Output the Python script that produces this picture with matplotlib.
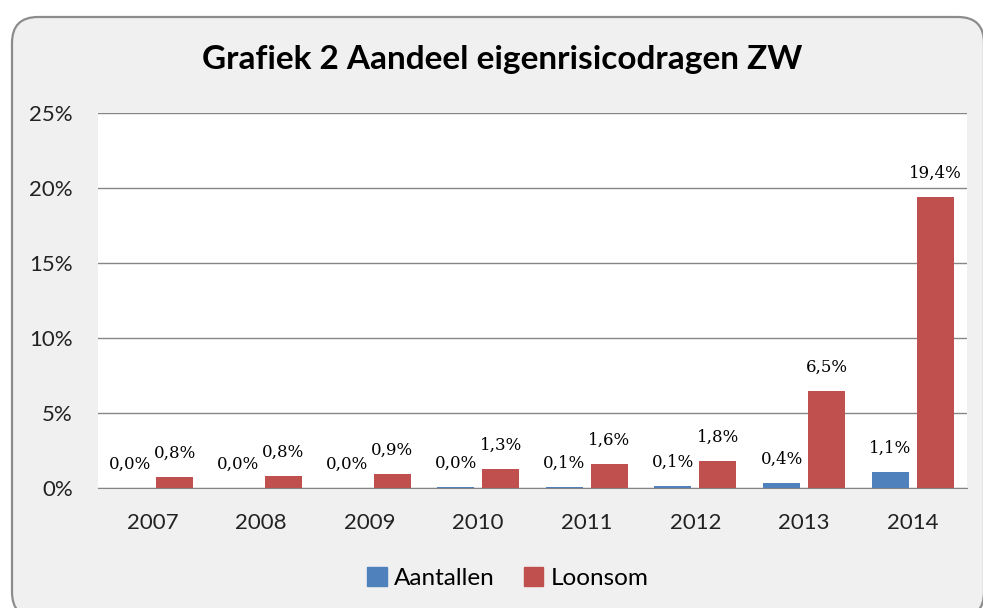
import numpy as np
import matplotlib
matplotlib.use('Agg')
import matplotlib.pyplot as plt
from matplotlib.patches import FancyBboxPatch, Patch

jaren = ['2007', '2008', '2009', '2010', '2011', '2012', '2013', '2014']
aantallen = [0.03, 0.03, 0.03, 0.04, 0.08, 0.12, 0.36, 1.05]
loonsom = [0.76, 0.83, 0.93, 1.3, 1.6, 1.8, 6.5, 19.4]
yticks = [0, 5, 10, 15, 20, 25]

blauw = '#4f81bd'
rood = '#c0504d'
plt.rcParams['font.family'] = ['Lato', 'DejaVu Sans']

fig = plt.figure(figsize=(9.83, 6.08), dpi=100)
fig.patch.set_facecolor('white')

# afgeronde grijze achtergrond (pixels)
paneel = FancyBboxPatch((12, -10), 972, 605 - 12 + 10 - 2,
                        boxstyle='round,pad=0,rounding_size=26',
                        transform=None, facecolor='#f0f0f0',
                        edgecolor='#8c8c8c', linewidth=1.6, zorder=-5)
fig.patches.append(paneel)

ax = fig.add_axes([98 / 983, 120 / 608, 869 / 983, 375 / 608])
ax.set_zorder(2)
ax.set_facecolor('white')

x = np.arange(len(jaren))
b = 0.34
d = 0.207
ax.bar(x - d, aantallen, b, color=blauw, zorder=3)
ax.bar(x + d, loonsom, b, color=rood, zorder=3)

def fmt(v):
    return f'{v:.1f}'.replace('.', ',') + '%'

for xi, v in zip(x - d, aantallen):
    ax.annotate(fmt(v), (xi, v), xytext=(0, 17), textcoords='offset points',
                ha='center', va='center', fontsize=12, family='DejaVu Serif')
for xi, v in zip(x + d, loonsom):
    ax.annotate(fmt(v), (xi, v), xytext=(0, 17), textcoords='offset points',
                ha='center', va='center', fontsize=12, family='DejaVu Serif')

ax.set_xlim(-0.5, len(jaren) - 0.5)
ax.set_ylim(0, 25)
ax.set_yticks(yticks)
ax.set_yticklabels([f'{t}%' for t in yticks])
ax.set_xticks(x)
ax.set_xticklabels(jaren)
ax.tick_params(axis='both', length=0, labelsize=16, colors='#222222')
ax.tick_params(axis='y', pad=18)
ax.tick_params(axis='x', pad=18)
ax.yaxis.grid(True, color='#868686', linewidth=1, zorder=1)
ax.set_axisbelow(True)
for s in ['top', 'right', 'left']:
    ax.spines[s].set_visible(False)
ax.spines['bottom'].set_color('#868686')
ax.spines['bottom'].set_zorder(4)

fig.text(502 / 983, 1 - 60 / 608, 'Grafiek 2 Aandeel eigenrisicodragen ZW',
         ha='center', va='center', fontsize=24, fontweight='bold')

fig.legend(handles=[Patch(color=blauw, label='Aantallen'),
                    Patch(color=rood, label='Loonsom')],
           loc='center', bbox_to_anchor=(508 / 983, 1 - 578 / 608), ncol=2,
           frameon=False, fontsize=17.5, handlelength=0.8, handleheight=0.8,
           handletextpad=0.3, columnspacing=1.2)

fig.savefig('out.png', dpi=100)
